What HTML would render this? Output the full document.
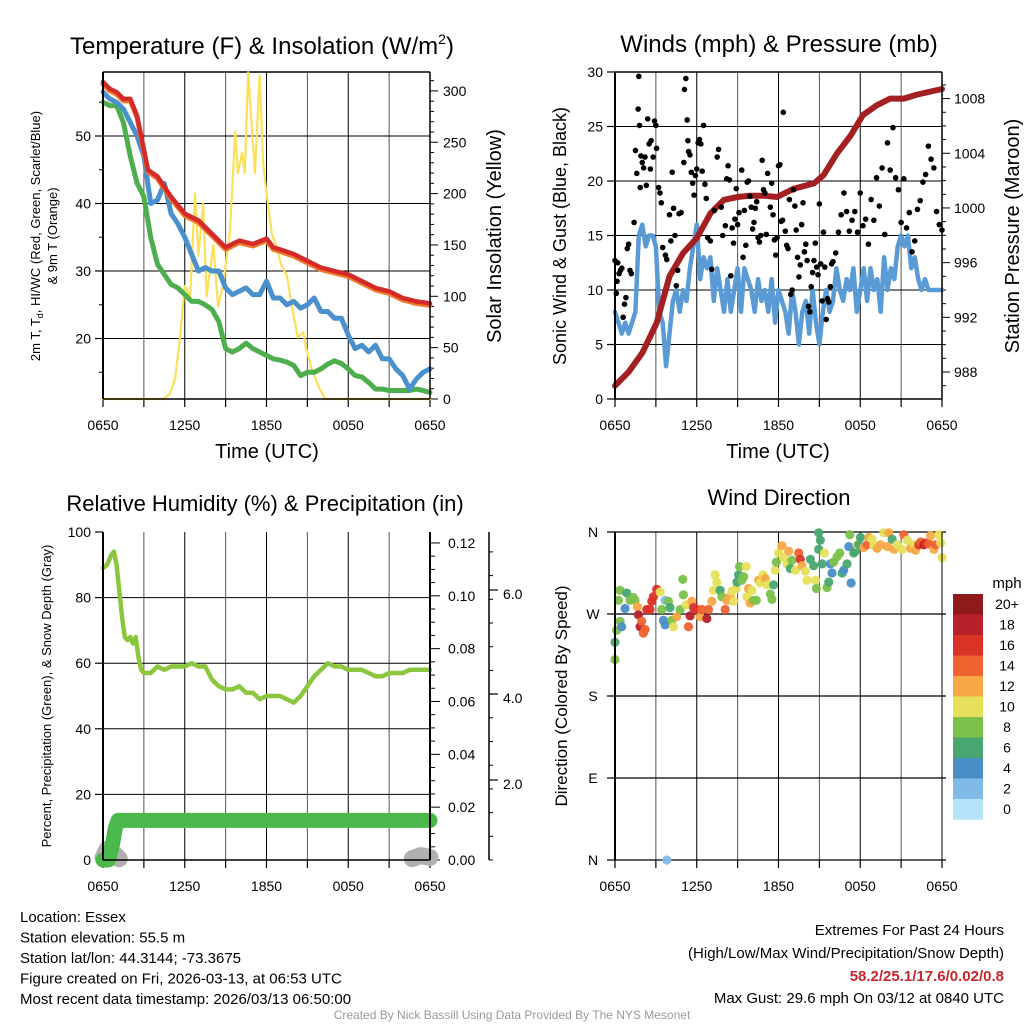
<!DOCTYPE html>
<html><head><meta charset="utf-8"><style>
html,body{margin:0;padding:0;background:#fff;}
svg{display:block;font-family:"Liberation Sans",sans-serif;}
</style></head><body>
<svg id="c" width="1024" height="1024" viewBox="0 0 1024 1024"></svg>
<script>
// ===== Data =====
const tHours=[0,0.5,1,1.5,2,2.5,3,3.3,4,5,6,7,8,9,10,11,12,12.5,13,14,15,16,17,18,19,20,21,22,23,24];
const tempRed=[58,57,56.5,55.5,55.5,53,48,45,44,41,38.5,37.5,35.5,33.5,34.5,34,34.8,33.5,33.2,32.5,31.5,30.5,30,29.5,28.5,27.5,27,26,25.5,25.2];
const hHours=[0,0.5,1,1.5,2,2.5,3,3.5,4,4.5,5,5.5,6,6.5,7,7.5,8,8.5,9,9.5,10,10.5,11,11.5,12,12.5,13,13.5,14,14.5,15,15.5,16,16.5,17,17.5,18,18.5,19,19.5,20,20.5,21,21.5,22,22.5,23,23.5,24];
const tempBlue=[56.5,55.5,55,54,52,50,47,40,40.5,43,38.5,37,35,32.5,30,30.5,30,30,27.5,26.5,27,27.5,26.5,26.5,28.5,26,26,25,25.5,24.5,25,26,24,24,23,23,20.5,18.5,19,18,19,17,17,15.5,14.5,12.5,14,15,15.5];
const tempGreen=[55,54.5,54.5,52,47,43,41,35,31,29.5,28,27.5,26.5,25.5,25.5,25,24.3,22.5,18.5,18,18.5,19.3,18.5,18,17.5,17,16.8,16.5,16,14.5,15,15,15.5,16.2,16.7,16.3,15.5,14.5,14.3,13.5,12.5,12.5,12.3,12.3,12.3,12.3,12.5,12.3,12];
const solarHours=[0,4.4,4.9,5.3,5.65,6.0,6.4,6.75,7.0,7.35,7.6,8.1,8.45,8.8,9.3,9.7,9.9,10.2,10.4,10.66,10.9,11.15,11.5,11.75,12,12.4,12.7,13.1,13.5,14,14.3,14.7,14.9,15.3,15.9,16.3,24];
const solarVals=[0,0,5,20,60,110,100,200,140,190,100,150,90,110,160,260,220,240,220,318,270,220,315,230,200,160,150,130,120,80,60,65,50,30,10,0,0];

const windHours=[0,0.25,0.5,0.75,1,1.25,1.5,1.75,2,2.25,2.5,2.75,3,3.25,3.5,3.75,4,4.25,4.5,4.75,5,5.25,5.5,5.75,6,6.25,6.5,6.75,7,7.25,7.5,7.75,8,8.25,8.5,8.75,9,9.25,9.5,9.75,10,10.25,10.5,10.75,11,11.25,11.5,11.75,12,12.25,12.5,12.75,13,13.25,13.5,13.75,14,14.25,14.5,14.75,15,15.25,15.5,15.75,16,16.25,16.5,16.75,17,17.25,17.5,17.75,18,18.25,18.5,18.75,19,19.25,19.5,19.75,20,20.25,20.5,20.75,21,21.25,21.5,21.75,22,22.25,22.5,22.75,23,23.5,24];
const windVals=[8,7,6,7,6,7,8,15,16,14,15,15,14,8,7,3,6,9,10,8,10,9,12,14,16,11,13,12,13,9,12,10,8,11,8,10,12,8,12,11,10,8,11,9,10,8,11,7,10,9,8,6,10,8,5,8,9,6,10,7,5,8,10,8,9,12,10,9,11,10,12,8,10,12,9,12,10,11,8,13,10,12,11,14,15,14,15,12,13,11,10,11,10,10,10];
const presHours=[0,1,2,3.06,4,5,6,7,8,9,9.9,10.9,11.9,13.1,14.6,15.3,16.3,17.3,18.2,19.2,20.2,21.2,22.2,24];
const presVals=[987.0,988.0,989.4,991.6,995,996.7,997.8,999.6,1000.6,1000.8,1000.9,1000.9,1000.8,1001.4,1001.8,1002.4,1004,1005.3,1006.8,1007.5,1008,1008,1008.3,1008.7];
const gustHours=[0,0.1,0.15,0.2,0.3,0.4,0.5,0.6,0.7,0.8,0.9,1.0,1.1,1.2,1.4,1.5,1.6,1.7,1.75,1.8,1.85,1.9,2.0,2.1,2.2,2.3,2.4,2.5,2.6,2.65,2.8,2.9,3.0,3.05,3.2,3.3,3.4,3.5,3.7,3.8,4.0,4.1,4.2,4.3,4.4,4.5,4.6,4.7,4.85,5.05,5.1,5.2,5.3,5.35,5.4,5.5,5.6,5.7,5.8,5.9,6.0,6.1,6.2,6.3,6.4,6.5,6.6,6.7,6.8,7.0,7.1,7.3,7.5,7.6,7.8,7.9,8.1,8.2,8.3,8.4,8.5,8.6,8.7,8.8,8.9,9.0,9.1,9.3,9.4,9.5,9.6,9.7,9.8,9.9,10.0,10.1,10.2,10.3,10.4,10.5,10.6,10.7,10.8,10.9,11.0,11.1,11.2,11.4,11.5,11.6,11.7,11.8,11.9,12.0,12.1,12.2,12.3,12.35,12.5,12.6,12.7,12.8,12.9,13.0,13.1,13.2,13.3,13.4,13.5,13.6,13.7,13.8,13.9,14.0,14.1,14.2,14.3,14.4,14.5,14.6,14.7,14.8,14.9,15.0,15.1,15.2,15.3,15.4,15.5,15.6,15.7,15.8,15.9,16.0,16.2,16.4,16.6,16.8,17.0,17.2,17.4,17.6,17.8,18.0,18.2,18.4,18.6,18.8,19.0,19.2,19.4,19.6,19.8,20.0,20.2,20.4,20.6,20.8,21.0,21.2,21.4,21.6,21.8,22.0,22.2,22.4,22.6,22.8,23.0,23.2,23.4,23.6,23.8,24.0];
const gustVals=[12.7,9.7,10.8,12.5,11.5,11.8,12,7.5,8.7,9.3,13.8,14.2,11.8,11.5,16.2,22.8,20.7,26.6,29.6,25.1,19.4,22.3,21.7,21.2,22.2,19.6,25.7,23.4,21.1,23.7,22.2,25.5,25.1,23.0,19.4,18.9,18.0,13.9,13.2,12.8,16.9,14.5,20.8,17.5,15.0,10.4,11.8,17.0,17.1,21.7,28.4,29.4,25.6,23.7,22.7,22.4,20.8,19.8,18.7,20.5,21.1,23.5,23.8,23.4,20.9,25.1,19.7,18.4,14.8,14.5,11.9,17.3,22.2,22.9,17.6,15.0,15.9,20.2,21.4,20.1,11.3,15.7,14.3,16.5,19.3,16.0,17.1,21.0,13.0,17.3,14.1,19.9,20.0,18.6,17.6,15.6,16.2,17.5,18.1,14.8,14.4,15.0,21.9,19.2,18.9,15.1,20.7,17.6,19.8,16.9,14.6,13.2,14.8,21.4,21.5,16.3,16.4,26.3,15.4,14.1,13.8,18.3,9.6,10.0,19.2,17.7,15.5,13.0,11.2,12.3,16.0,18.0,13.5,14.2,12.7,8.5,8.0,10.3,11.6,12.7,14.3,12.1,11.4,17.9,12.4,9.0,15.3,12.1,7.3,9.2,8.9,10.3,12.4,12.6,13.4,15.3,16.9,18.9,17.2,15.4,16.4,17.2,15.3,18.9,15.9,16.5,14.2,18.3,16.4,20.3,17.7,21.2,15.1,23.5,21.0,24.9,20.3,19.2,16.2,20.2,15.7,17.1,13.5,14.5,17.4,18.2,19.9,20.6,23.2,22.0,21.2,17.2,16.0,15.5,19.3,14.6,17.3];

const rhHours=[0,0.3,0.6,0.8,1,1.2,1.4,1.6,1.8,2,2.2,2.4,2.6,2.8,3,3.5,4,4.5,5,5.5,6,6.5,7,7.5,8,8.5,9,9.5,10,10.5,11,11.5,12,12.5,13,13.5,14,14.5,15,15.5,16,16.5,17,17.5,18,18.5,19,19.5,20,20.5,21,21.5,22,22.5,23,24];
const rhVals=[89,90,93,94,90,82,74,68,67,68,66,68,62,58,57,57,59,58,59,59,59,60,59,59,55,53,52,52,53,51,51,49,50,50,50,49,48,50,53,56,58,60,59,59,58,58,58,57,56,56,57,57,57,58,58,58];
const precipHours=[0,0.4,0.7,0.9,1.1,24];
const precipVals=[0,0,0.006,0.012,0.015,0.015];
const snowSeg1Hours=[0,0.3,0.6,0.9,1.2];
const snowSeg1Vals=[0.05,0.25,0.2,0.12,0.03];
const snowSeg2Hours=[22.7,23.3,24];
const snowSeg2Vals=[0.03,0.1,0.06];

const dirHours=[0,0,0.12,0.37,0.49,0.25,0.37,0.74,0.86,1.10,1.35,1.47,1.64,1.72,1.84,1.96,2.08,2.21,2.33,2.57,2.70,2.82,3.06,3.31,3.43,3.55,3.68,3.68,3.92,4.04,4.17,4.29,4.53,4.78,4.98,5.02,5.22,5.39,5.51,5.64,5.76,6.00,6.25,6.37,6.74,6.86,7.11,7.23,7.35,7.48,7.72,7.84,8.09,8.21,8.46,8.58,8.70,8.90,8.95,9.07,9.14,9.31,9.44,9.63,9.68,9.80,9.93,10.05,10.17,10.37,10.54,10.66,10.86,11.03,11.15,11.40,11.52,11.64,11.76,11.84,12.01,12.25,12.38,12.62,12.75,12.87,12.99,13.24,13.48,13.60,13.73,13.97,14.09,14.34,14.58,14.71,14.78,14.95,15.07,14.95,15.20,15.37,15.56,15.69,15.81,15.93,16.05,16.30,16.50,16.67,16.79,17.03,17.16,17.23,17.33,17.52,17.65,17.77,17.89,18.01,18.26,18.50,18.63,18.87,19.00,19.24,19.49,19.73,19.98,20.10,20.34,20.47,20.71,21.08,21.20,21.45,21.69,21.94,22.06,22.30,22.43,22.67,22.79,23.04,23.16,23.41,23.53,23.77,23.90,24.0,3.80];
const dirVals=[220,239,252,262,256,285,296,276,293,285,288,285,278,269,256,262,249,253,275,275,284,289,297,294,275,263,285,258,284,277,263,256,267,275,308,291,280,256,268,284,277,275,267,275,265,275,284,296,313,305,296,289,275,285,289,295,284,298,305,313,322,307,311,322,289,298,282,296,285,285,307,304,313,309,302,292,286,302,318,327,337,345,332,325,339,320,329,318,337,330,323,317,307,330,323,307,298,359,351,341,325,337,299,305,325,315,327,333,337,315,318,325,344,357,304,337,339,346,346,354,343,346,354,352,345,342,346,359,344,359,352,341,346,341,357,351,342,346,340,346,349,346,348,347,356,341,346,357,348,332,0];
const dirSpeeds=[8,6,8,8,4,8,8,4,6,8,8,8,12,18,19,15,14,14,16,16,16,16,16,10,8,4,2,4,8,6,8,10,12,8,8,8,10,14,18,12,16,16,12,14,18,14,12,10,10,10,6,8,14,12,12,10,10,10,6,6,8,8,8,10,10,12,12,10,8,8,12,10,10,12,10,8,8,6,10,8,10,12,10,10,12,6,8,10,14,16,12,10,10,6,6,10,8,6,6,6,6,10,8,6,4,4,8,8,8,6,4,6,4,8,4,6,6,10,6,6,12,14,12,10,10,12,12,10,12,12,6,12,10,10,14,10,12,10,12,16,14,18,16,14,12,12,14,10,10,10,2];

const cbLabels=["20+","18","16","14","12","10","8","6","4","2","0"];
const cbColors=["#8e1a1c","#b8202a","#da3328","#ef6330","#f7a845","#e6e05a","#7bc14a","#48a670","#4a8ec6","#7fbbe6","#b5e2f8"];
const xTickLabels=["0650","1250","1850","0050","0650"];

// ===== Drawing =====
const NS="http://www.w3.org/2000/svg";
const svg=document.getElementById('c');
function el(tag,attrs,parent){const e=document.createElementNS(NS,tag);for(const k in attrs)e.setAttribute(k,attrs[k]);(parent||svg).appendChild(e);return e;}
function txt(s,x,y,size,anchor,parent,extra){const t=el('text',Object.assign({x:x,y:y,'font-size':size,'text-anchor':anchor||'middle',fill:'#000'},extra||{}),parent);t.textContent=s;return t;}
function group(name){const g=el('g',{});return g;}
function line(x1,y1,x2,y2,c,w,p){return el('line',{x1:x1,y1:y1,x2:x2,y2:y2,stroke:c,'stroke-width':w},p);}
function poly(xs,ys,sx,sy,c,w,p){let d='';for(let i=0;i<xs.length;i++)d+=(i?'L':'M')+sx(xs[i]).toFixed(1)+' '+sy(ys[i]).toFixed(1);return el('path',{d:d,fill:'none',stroke:c,'stroke-width':w,'stroke-linejoin':'round','stroke-linecap':'round'},p);}

function panel(name,x0,x1,y0,y1){
  const g=group(name);
  const sx=h=>x0+h*(x1-x0)/24;
  for(let i=0;i<=8;i++){const x=sx(i*3);line(x,y0,x,y1,i%2?'#555':'#000',1,g);line(x,y1,x,y1+8,'#000',1.2,g);}
  xTickLabels.forEach((s,i)=>{const t=txt(s,sx(i*6),y1+31,14,'middle',g);});
  return {g,sx};
}

// Panel 1
(function(){
  const x0=103,x1=430,y0=72,y1=399;
  const {g,sx}=panel('temperature-panel',x0,x1,y0,y1);
  const sy=v=>338.5-(v-20)*6.75;
  const ss=v=>399-v*1.027;
  [20,30,40,50].forEach(v=>{line(x0,sy(v),x1,sy(v),'#000',1,g);line(x0-8,sy(v),x0,sy(v),'#000',1.2,g);txt(String(v),x0-12,sy(v)+5,14,'end',g);});
  [15,25,35,45,55].forEach(v=>line(x0-4,sy(v),x0,sy(v),'#000',1,g));
  for(let v=0;v<=310;v+=10){line(x1,ss(v),x1+(v%50?4:8),ss(v),'#000',1,g);}
  [0,50,100,150,200,250,300].forEach(v=>txt(String(v),x1+13,ss(v)+5,14,'start',g));
  line(x0,y0,x1,y0,'#000',1.5,g);
  const s=poly(solarHours,solarVals,sx,ss,'#fde05a',2.2,g);
  const gr=poly(hHours,tempGreen,sx,sy,'#4cae4c',5,g);
  const bl=poly(hHours,tempBlue,sx,sy,'#4a90cc',5,g);
  const or=poly(tHours,tempRed.map(v=>v-0.3),sx,sy,'#f07a2a',5,g);
  const rd=poly(tHours,tempRed,sx,sy,'#d42a2a',4.5,g);
  line(x0,y0,x0,y1,'#000',2,g);line(x1,y0,x1,y1,'#000',1.5,g);line(x0,y1,x1,y1,'#000',1.5,g);
  const t=txt('Temperature (F) & Insolation (W/m',262,54,24,'middle',g);
  const ts=el('tspan',{'font-size':14,dy:-10},t);ts.textContent='2';const ts2=el('tspan',{dy:10},t);ts2.textContent=')';
  txt('Time (UTC)',267,458,20,'middle',g);
  const l1=txt('',0,0,13,'middle',g,{transform:'translate(40,236) rotate(-90)'});l1.textContent='2m T, T';
  const sub=el('tspan',{'font-size':9,dy:3},l1);sub.textContent='d';const r1=el('tspan',{dy:-3},l1);r1.textContent=', HI/WC (Red, Green, Scarlet/Blue)';
  txt('& 9m T (Orange)',0,0,13,'middle',g,{transform:'translate(57,236) rotate(-90)'});
  const yl=txt('Solar Insolation (Yellow)',0,0,20,'middle',g,{transform:'translate(501,236) rotate(-90)'});
})();

// Panel 2
(function(){
  const x0=615,x1=942,y0=72,y1=399;
  const {g,sx}=panel('winds-panel',x0,x1,y0,y1);
  const sy=v=>399-v*10.9;
  const sp=v=>372-(v-988)*13.67;
  [0,5,10,15,20,25,30].forEach(v=>{if(v>0&&v<30)line(x0,sy(v),x1,sy(v),'#000',1,g);line(x0-8,sy(v),x0,sy(v),'#000',1.2,g);txt(String(v),x0-12,sy(v)+5,14,'end',g);});
  for(let p=987;p<=1009;p++){line(x1,sp(p),x1+(p%4?4:8),sp(p),'#000',1,g);}
  [988,992,996,1000,1004,1008].forEach(p=>txt(String(p),x1+12,sp(p)+5,14,'start',g));
  line(x0,y0,x1,y0,'#000',1.5,g);
  const w=poly(windHours,windVals,sx,sy,'#5a9bd5',4.5,g);
  const pr=poly(presHours,presVals,sx,sp,'#a31f22',6,g);
  for(let i=0;i<gustHours.length;i++){
    const c=el('circle',{cx:sx(gustHours[i]),cy:sy(gustVals[i]),r:2.8,fill:'#000'},g);
    
    
  }
  line(x0,y0,x0,y1,'#000',2,g);line(x1,y0,x1,y1,'#000',1.5,g);line(x0,y1,x1,y1,'#000',1.5,g);
  txt('Winds (mph) & Pressure (mb)',779,52,24,'middle',g);
  txt('Time (UTC)',778,458,20,'middle',g);
  txt('Sonic Wind & Gust (Blue, Black)',0,0,18,'middle',g,{transform:'translate(566,236) rotate(-90)'});
  txt('Station Pressure (Maroon)',0,0,20,'middle',g,{transform:'translate(1019,236) rotate(-90)'});
})();

// Panel 3
(function(){
  const x0=103,x1=430,y0=532,y1=860;
  const {g,sx}=panel('humidity-panel',x0,x1,y0,y1);
  const sy=v=>860-v*3.28;
  const spp=v=>860-v*2642;
  const ssd=v=>860-v*((860-599)/6);
  [0,20,40,60,80,100].forEach(v=>{if(v>0&&v<100)line(x0,sy(v),x1,sy(v),'#000',1,g);line(x0-8,sy(v),x0,sy(v),'#000',1.2,g);txt(String(v),x0-12,sy(v)+5,14,'end',g);});
  for(let i=0;i<=24;i++){const v=i*0.005;line(x1,spp(v),x1+(i%4?5:10),spp(v),'#000',1,g);}
  [0,0.02,0.04,0.06,0.08,0.10,0.12].forEach(v=>txt(v.toFixed(2),x1+18,spp(v)+5,14,'start',g));
  line(489,532,489,860,'#000',1.5,g);
  for(let i=0;i<=13;i++)line(489,860-i*23.7,493,860-i*23.7,'#000',1,g);
  [[2,789],[4,703],[6,599]].forEach(a=>{line(489,a[1]-9,498,a[1]-9,'#000',1.2,g);txt(a[0].toFixed(1),503,a[1],14,'start',g);});
  const s1=poly(snowSeg1Hours,snowSeg1Vals,sx,ssd,'#b0b0b0',17,g);
  const s2=poly(snowSeg2Hours,snowSeg2Vals,sx,ssd,'#b0b0b0',17,g);
  const pp=poly(precipHours,precipVals,sx,spp,'#4ab84a',15,g);
  const rh=poly(rhHours,rhVals,sx,sy,'#8cc63f',4.5,g);
  line(x0,y0,x0,y1,'#000',2,g);line(x1,y0,x1,y1,'#000',2,g);line(x0,y1,x1,y1,'#000',1.5,g);
  txt('Relative Humidity (%) & Precipitation (in)',265,511,22,'middle',g);
  txt('Percent, Precipitation (Green), & Snow Depth (Gray)',0,0,13,'middle',g,{transform:'translate(51,696) rotate(-90)'});
})();

// Panel 4
(function(){
  const x0=615,x1=942,y0=532,y1=860;
  const {g,sx}=panel('wind-direction-panel',x0,x1,y0,y1);
  const sy=v=>860-v*328/360;
  [['N',0],['E',90],['S',180],['W',270],['N',360]].forEach(a=>{line(x0-8,sy(a[1]),x1+4,sy(a[1]),'#000',1.2,g);txt(a[0],x0-22,sy(a[1])+5,14,'middle',g);});
  for(let i=0;i<dirHours.length;i++){
    const b=Math.max(0,Math.min(10,Math.floor(dirSpeeds[i]/2)));
    const c=el('circle',{cx:sx(dirHours[i]),cy:sy(dirVals[i]),r:4.6,fill:cbColors[10-b],'fill-opacity':0.95},g);
    
    
  }
  line(x0,y0,x0,y1,'#000',2,g);line(x1,y0,x1,y1,'#000',1,g);
  txt('Wind Direction',779,505,22,'middle',g);
  txt('Direction (Colored By Speed)',0,0,17,'middle',g,{transform:'translate(567,696) rotate(-90)'});
  const cb=group('speed-colorbar');
  txt('mph',1007,588,15,'middle',cb);
  for(let i=0;i<11;i++){
    const r=el('rect',{x:953,y:594+i*20.5,width:30,height:20.8,fill:cbColors[i]},cb);
    
    
    txt(cbLabels[i],1007,609+i*20.5,14,'middle',cb);
  }
})();

// Footer
(function(){
  const g=group('station-info');
  ['Location: Essex','Station elevation: 55.5 m','Station lat/lon: 44.3144; -73.3675','Figure created on Fri, 2026-03-13, at 06:53 UTC','Most recent data timestamp: 2026/03/13 06:50:00'].forEach((s,i)=>txt(s,20,922+i*20.5,15,'start',g));
  const h=group('extremes-summary');
  txt('Extremes For Past 24 Hours',1004,935,15,'end',h);
  txt('(High/Low/Max Wind/Precipitation/Snow Depth)',1004,958,15,'end',h);
  txt('58.2/25.1/17.6/0.02/0.8',1004,981,15,'end',h,{fill:'#c8262c','font-weight':'bold'});
  txt('Max Gust: 29.6 mph On 03/12 at 0840 UTC',1004,1003,15,'end',h);
  const c=txt('Created By Nick Bassill Using Data Provided By The NYS Mesonet',512,1019,12,'middle',svg,{fill:'#999'});
  
})();
</script>
</body></html>
